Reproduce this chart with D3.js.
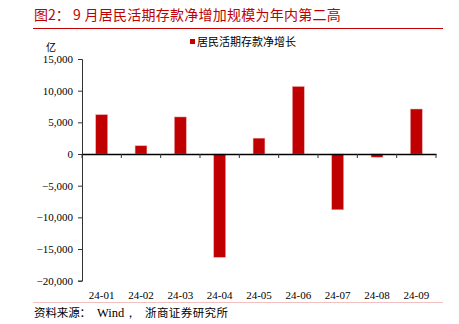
<!DOCTYPE html>
<html><head><meta charset="utf-8">
<script src="https://cdn.jsdelivr.net/npm/d3@7"></script>
<style>body{margin:0;background:#fff}</style>
</head><body>
<script>
const categories = ["24-01","24-02","24-03","24-04","24-05","24-06","24-07","24-08","24-09"];
const values = [6200, 1300, 5850, -16300, 2500, 10650, -8800, -500, 7100];
const yTicks = [15000,10000,5000,0,-5000,-10000,-15000,-20000];
const titleParts = ["图2：", "9 月居民活期存款净增加规模为年内第二高"];
const seriesName = "居民活期存款净增长";
const unit = "亿";
const sourceParts = ["资料来源：", "Wind，", "浙商证券研究所"];

const W=459,H=324;
const svg=d3.select("body").append("svg").attr("width",W).attr("height",H);
const serif="'Liberation Serif','Times New Roman',serif";
const cjk="'Noto Sans CJK SC',sans-serif";
const red="#c00000";

const t=svg.append("text").attr("y",20).attr("fill",red)
  .style("font-family",cjk).style("font-size","14px");
t.append("tspan").attr("x",34).text(titleParts[0]);
t.append("tspan").attr("x",73).style("letter-spacing","0.25px").text(titleParts[1]);
svg.append("line").attr("x1",33).attr("x2",443).attr("y1",28.5).attr("y2",28.5)
  .attr("stroke",red).attr("stroke-width",1);

const x=d3.scaleBand().domain(categories).range([82,436]).paddingInner(0.7).paddingOuter(0.35);
const y=d3.scaleLinear().domain([-20000,15000]).range([280.7,59]);

svg.append("g").selectAll("rect").data(values).join("rect")
  .attr("x",(d,i)=>x(categories[i]))
  .attr("width",x.bandwidth())
  .attr("y",d=>y(Math.max(0,d)))
  .attr("height",d=>Math.abs(y(d)-y(0)))
  .attr("fill",red).attr("stroke","#e8a0a0").attr("stroke-width",0.5);

const ya=svg.append("g").attr("transform","translate(82,0)")
  .call(d3.axisLeft(y).tickValues(yTicks).tickSize(4).tickFormat(d3.format(",")));
ya.select(".domain").attr("stroke","#333");
ya.selectAll("line").attr("stroke","#333");
ya.selectAll("text").style("font-family",serif).style("font-size","11px").attr("fill","#000").attr("x",-9);

const xb=d3.scaleBand().domain(categories).range([82,436]);
const xa=svg.append("g").attr("transform",`translate(0,${y(0)})`)
  .call(d3.axisBottom(xb).tickSize(0).tickFormat(""));
xa.select(".domain").attr("stroke","#000").attr("stroke-width",1.3);
xa.selectAll(".bd").data(d3.range(categories.length+1)).join("line")
  .attr("x1",i=>82+i*xb.step()).attr("x2",i=>82+i*xb.step())
  .attr("y1",0).attr("y2",4).attr("stroke","#333");

svg.append("g").selectAll("text").data(categories).join("text")
  .attr("x",d=>xb(d)+xb.bandwidth()/2).attr("y",298.5)
  .attr("text-anchor","middle").style("font-family",serif).style("font-size","11px").text(d=>d);

svg.append("text").attr("x",46).attr("y",51).style("font-family",cjk).style("font-size","10px").text(unit);

svg.append("rect").attr("x",190).attr("y",39).attr("width",5).attr("height",5).attr("fill",red);
svg.append("text").attr("x",197).attr("y",46).style("font-family",cjk).style("font-size","11px").text(seriesName);

svg.append("line").attr("x1",33).attr("x2",443).attr("y1",302.5).attr("y2",302.5).attr("stroke","#f0b0b0").attr("stroke-width",0.8);
const s=svg.append("text").attr("y",317).style("font-size","11.5px");
s.append("tspan").attr("x",34).style("font-family",cjk).attr("textLength",57).text(sourceParts[0]);
s.append("tspan").attr("x",97).style("font-family",serif).style("font-size","12.5px").text(sourceParts[1]);
s.append("tspan").attr("x",145).style("font-family",cjk).attr("textLength",83).text(sourceParts[2]);
</script>
</body></html>
